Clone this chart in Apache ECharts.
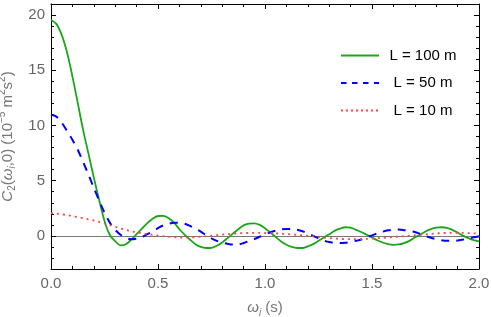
<!DOCTYPE html>
<html><head><meta charset="utf-8">
<script src="https://cdn.jsdelivr.net/npm/echarts@6/dist/echarts.min.js"></script>
<style>html,body{margin:0;padding:0;background:#fff}#c{width:491px;height:317px}</style>
</head><body><div id="c"></div><script>
const omega = [0.000,0.025,0.050,0.075,0.100,0.125,0.150,0.175,0.200,0.225,0.250,0.275,0.300,0.325,0.350,0.375,0.400,0.425,0.450,0.475,0.500,0.525,0.550,0.575,0.600,0.625,0.650,0.675,0.700,0.725,0.750,0.775,0.800,0.825,0.850,0.875,0.900,0.925,0.950,0.975,1.000,1.025,1.050,1.075,1.100,1.125,1.150,1.175,1.200,1.225,1.250,1.275,1.300,1.325,1.350,1.375,1.400,1.425,1.450,1.475,1.500,1.525,1.550,1.575,1.600,1.625,1.650,1.675,1.700,1.725,1.750,1.775,1.800,1.825,1.850,1.875,1.900,1.925,1.950,1.975,2.000];
const c100 = [19.55,19.2,18.2,16.6,14.45,12.05,9.6,7.45,5.3,3.25,1.35,0.08,-0.48,-0.86,-0.76,-0.34,0.15,0.65,1.15,1.55,1.8,1.82,1.6,1.2,0.6,0.1,-0.35,-0.75,-1.0,-1.1,-1.08,-0.9,-0.6,-0.2,0.2,0.6,0.95,1.1,1.14,1.0,0.7,0.3,-0.1,-0.5,-0.8,-1.0,-1.1,-1.1,-0.95,-0.75,-0.45,-0.15,0.15,0.45,0.65,0.78,0.75,0.55,0.35,0.1,-0.15,-0.4,-0.6,-0.75,-0.82,-0.78,-0.65,-0.45,-0.15,0.1,0.4,0.62,0.75,0.78,0.72,0.55,0.3,0.02,-0.2,-0.38,-0.5];
const c50 = [11.0,10.8,10.25,9.5,8.7,7.8,6.7,5.55,4.35,3.2,2.1,1.2,0.55,0.1,-0.18,-0.3,-0.25,-0.1,0.15,0.42,0.7,0.95,1.1,1.18,1.18,1.1,0.9,0.65,0.38,0.05,-0.22,-0.45,-0.62,-0.72,-0.78,-0.78,-0.65,-0.45,-0.28,-0.08,0.12,0.32,0.47,0.58,0.63,0.62,0.55,0.42,0.22,0.0,-0.22,-0.42,-0.56,-0.63,-0.64,-0.62,-0.55,-0.45,-0.33,-0.12,0.05,0.22,0.38,0.5,0.56,0.57,0.52,0.45,0.35,0.18,0.0,-0.17,-0.3,-0.4,-0.45,-0.45,-0.42,-0.34,-0.25,-0.13,-0.03];
const c10 = [2.05,2.02,1.95,1.88,1.8,1.7,1.6,1.5,1.4,1.27,1.12,0.97,0.83,0.68,0.54,0.42,0.32,0.23,0.15,0.09,0.03,-0.03,-0.08,-0.12,-0.15,-0.16,-0.14,-0.11,-0.07,-0.03,0.02,0.07,0.12,0.16,0.2,0.23,0.25,0.27,0.27,0.27,0.26,0.25,0.23,0.2,0.17,0.13,0.08,0.04,0.0,-0.05,-0.1,-0.15,-0.2,-0.24,-0.27,-0.29,-0.3,-0.3,-0.29,-0.27,-0.24,-0.21,-0.18,-0.14,-0.1,-0.06,-0.02,0.02,0.06,0.1,0.14,0.18,0.22,0.25,0.27,0.28,0.28,0.27,0.25,0.23,0.21];
const seriesNames = ['L = 100 m','L = 50 m','L = 10 m'];
const yMajorTicks = [0,5,10,15,20];

const FONT = 'Liberation Sans';
const pairs = arr => omega.map((x,i)=>[x, arr[i]]);
const black = {color:'#000', width:1};
const tickCommon = {inside:true, lineStyle:black};
const hiddenSym = {opacity:0, color:'rgba(0,0,0,0)', borderColor:'rgba(0,0,0,0)', borderWidth:0};
const titleColor = '#777';

const chart = echarts.init(document.getElementById('c'));
chart.setOption({
  animation:false,
  backgroundColor:'#fff',
  grid:{left:51, right:12, top:4, bottom:48, containLabel:false, outerBoundsMode:'none'},
  legend:{
    left:335, top:43, orient:'vertical', itemWidth:38, itemHeight:14, itemGap:12.5,
    formatter: n => '{a|'+n+'}',
    itemStyle:hiddenSym,
    textStyle:{fontFamily:FONT, fontSize:15, color:'#000', rich:{a:{width:78, align:'center', fontFamily:FONT, fontSize:15, color:'#000'}}},
    data:[
      {name:seriesNames[0], itemStyle:hiddenSym},
      {name:seriesNames[1], itemStyle:hiddenSym, lineStyle:{type:[5.5,5.5]}},
      {name:seriesNames[2], itemStyle:hiddenSym, lineStyle:{type:[2,3]}}
    ]
  },
  xAxis:[
    {type:'value', min:0, max:2, interval:0.5, position:'bottom',
     axisLine:{onZero:false, lineStyle:black},
     axisTick:Object.assign({length:5}, tickCommon),
     minorTick:{show:true, splitNumber:5, length:3, lineStyle:black},
     splitLine:{show:false}, minorSplitLine:{show:false},
     axisLabel:{formatter:v=>v.toFixed(1), color:'#666', fontFamily:FONT, fontSize:15, margin:7},
     name:'{it|ω}{sub|i} (s)', nameLocation:'middle', nameGap:29,
     nameTextStyle:{fontFamily:FONT, fontSize:15, color:titleColor, lineHeight:20,
       rich:{it:{fontStyle:'italic', fontFamily:FONT, fontSize:15, color:titleColor, lineHeight:20},
             sub:{fontStyle:'italic', fontFamily:FONT, fontSize:10, color:titleColor, verticalAlign:'bottom', lineHeight:12}}}},
    {type:'value', min:0, max:2, interval:0.5, position:'top',
     axisLine:{onZero:false, lineStyle:black},
     axisTick:Object.assign({length:5}, tickCommon),
     minorTick:{show:true, splitNumber:5, length:3, lineStyle:black},
     splitLine:{show:false}, axisLabel:{show:false}},
    {type:'value', min:0, max:2, position:'bottom',
     axisLine:{show:true, onZero:true, onZeroAxisIndex:0, lineStyle:{color:'#777', width:1}},
     axisTick:{show:false}, axisLabel:{show:false}, splitLine:{show:false}}
  ],
  yAxis:[
    {type:'value', min:-3, max:21, interval:1, position:'left',
     axisLine:{onZero:false, lineStyle:black},
     axisTick:Object.assign({length:3}, tickCommon),
     splitLine:{show:false},
     axisLabel:{formatter:v=>(v%5===0?String(v):''), color:'#666', fontFamily:FONT, fontSize:15, margin:6},
     name:'{it|C}{sub|2}({it|ω}{isub|i},0) (10{sup|−5} m{sup|2}s{sup|2})',
     nameLocation:'middle', nameGap:30, nameRotate:90,
     nameTextStyle:{fontFamily:FONT, fontSize:15, color:titleColor, lineHeight:20,
       rich:{it:{fontStyle:'italic', fontFamily:FONT, fontSize:15, color:titleColor, lineHeight:20},
             sub:{fontFamily:FONT, fontSize:10, color:titleColor, verticalAlign:'bottom', lineHeight:12},
             isub:{fontStyle:'italic', fontFamily:FONT, fontSize:10, color:titleColor, verticalAlign:'bottom', lineHeight:12},
             sup:{fontFamily:FONT, fontSize:10, color:titleColor, verticalAlign:'top', lineHeight:12}}}},
    {type:'value', min:-3, max:21, position:'left',
     axisLine:{show:false, onZero:false},
     axisTick:Object.assign({length:5, customValues:yMajorTicks}, tickCommon),
     splitLine:{show:false}, axisLabel:{show:false}},
    {type:'value', min:-3, max:21, interval:1, position:'right',
     axisLine:{onZero:false, lineStyle:black},
     axisTick:Object.assign({length:3}, tickCommon),
     splitLine:{show:false}, axisLabel:{show:false}},
    {type:'value', min:-3, max:21, position:'right',
     axisLine:{show:false, onZero:false},
     axisTick:Object.assign({length:5, customValues:yMajorTicks}, tickCommon),
     splitLine:{show:false}, axisLabel:{show:false}}
  ],
  series:[
    {name:seriesNames[0], type:'line', data:pairs(c100), smooth:0.3, symbol:'none', clip:true,
     lineStyle:{color:'#1aa81a', width:1.8}, itemStyle:{color:'#1aa81a'}},
    {name:seriesNames[1], type:'line', data:pairs(c50), smooth:0.3, symbol:'none', clip:true,
     lineStyle:{color:'#0000ff', width:2, type:[8,7]}, itemStyle:{color:'#0000ff'}},
    {name:seriesNames[2], type:'line', data:pairs(c10), smooth:0.3, symbol:'none', clip:true,
     lineStyle:{color:'#ff4444', width:1.8, type:[2,4]}, itemStyle:{color:'#ff4444'}}
  ]
});
</script></body></html>
